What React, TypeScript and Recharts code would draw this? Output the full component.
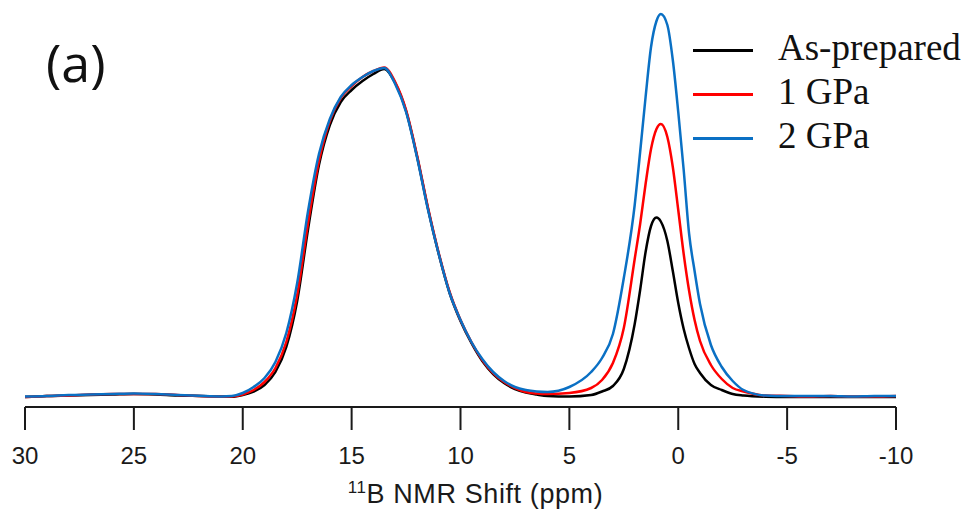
import React from "react";
import { LineChart, Line, XAxis, YAxis, Legend } from "recharts";

// chemical shift grid (ppm), denser around the sharp peak near 0.8 ppm
const shiftPpm = [
  30, 29, 28, 27, 26, 25, 24, 23, 22, 21, 20.5, 20, 19.5, 19, 18.5, 18, 17.5,
  17, 16.5, 16, 15.5, 15, 14.5, 14, 13.5, 13, 12.5, 12, 11.5, 11, 10.5, 10, 9.5,
  9, 8.5, 8, 7.5, 7, 6.5, 6, 5, 4, 3.5, 3, 2.5, 2, 1.75, 1.5, 1.25, 1, 0.8, 0.5,
  0.25, 0, -0.25, -0.5, -0.75, -1, -1.5, -2, -2.5, -3, -4, -5, -6, -7, -8, -9,
  -10,
];

const asPrepared = [
  0, 1, 1.5, 2, 2.5, 3, 2.5, 1.5, 1, 0.5, 0.3, 2, 5.5, 12, 25, 50, 96, 168, 232,
  272, 295, 307, 316, 323, 328, 314, 286, 241, 189, 143, 104, 76, 54, 36, 23,
  14, 8, 4.5, 2.5, 1, 0.5, 2, 5.5, 11, 28, 73, 107, 145, 171, 179.5, 175.5, 156,
  126, 94, 68, 48.5, 33, 24, 12, 7, 3, 1.5, 0.3, 0, 0, 0, 0, 0, 0,
];

const gpa1 = [
  0, 1, 1.5, 2.5, 3, 3, 3, 2, 1, 0.5, 0.5, 2.5, 7, 15, 29, 55, 102, 174, 236,
  276, 299, 311, 320, 326, 329.5, 315, 287, 242, 190, 144, 105, 77, 55, 37, 24,
  15, 9, 5, 3.5, 3, 4, 9, 17, 34, 69, 138, 173, 213, 248, 268, 273, 260, 230,
  187, 143, 106, 77, 56, 32, 18, 9, 5.5, 1.5, 1, 0.5, 1, 0.5, 0.5, 1,
];

const gpa2 = [
  0.5, 1, 2, 2.5, 3, 3.5, 3, 2, 1.2, 0.6, 1, 4, 10, 19, 35, 64, 114, 186, 243,
  278, 300, 312, 320, 326, 329, 313, 285, 240, 188, 143, 104, 77, 55, 38, 25,
  16, 10, 7, 5.5, 5, 10, 25, 39, 63, 119, 192, 245, 300, 350, 376, 383, 372,
  337, 285, 227, 163, 126, 93, 52, 30, 16, 7, 1.5, 1, 1, 1, 0.5, 1, 1,
];

const seriesNames = ["As-prepared", "1 GPa", "2 GPa"];
const xTicks = [30, 25, 20, 15, 10, 5, 0, -5, -10];

const data = shiftPpm.map((ppm, i) => ({
  ppm,
  asPrepared: asPrepared[i],
  gpa1: gpa1[i],
  gpa2: gpa2[i],
}));

const AxisTitle = (props: any) => {
  const vb = props.viewBox || { x: 25, y: 407, width: 871 };
  return (
    <text
      x={vb.x + vb.width / 2 + 15}
      y={vb.y + 96}
      textAnchor="middle"
      fill="#1a1a1a"
      fontFamily="'Liberation Sans', Arial, sans-serif"
      fontSize={27}
      letterSpacing={0.6}
    >
      <tspan fontSize={17} dy={-10}>11</tspan>
      <tspan dy={10}>B NMR Shift (ppm)</tspan>
    </text>
  );
};

const renderLegend = (props: any) => {
  const items = [...(props.payload || [])].sort(
    (a: any, b: any) => seriesNames.indexOf(a.value) - seriesNames.indexOf(b.value)
  );
  return (
    <div>
      {items.map((item: any) => (
        <div key={item.value} style={{ position: "relative", height: 43.7 }}>
          <div
            style={{
              position: "absolute",
              left: 0,
              top: 23,
              width: 60,
              height: 3,
              background: item.color,
            }}
          />
          <span
            style={{
              position: "absolute",
              left: 85,
              top: 0,
              fontFamily: "'Liberation Serif', 'Times New Roman', serif",
              fontSize: 37,
              lineHeight: "43.7px",
              color: "#111",
              whiteSpace: "nowrap",
            }}
          >
            {item.value}
          </span>
        </div>
      ))}
    </div>
  );
};

export default function App() {
  return (
    <div
      style={{
        position: "absolute",
        left: 0,
        top: 0,
        width: 966,
        height: 514,
        background: "#fff",
      }}
    >
      <div
        style={{
          position: "absolute",
          left: 46,
          top: 36,
          fontFamily: "'Open Sans', sans-serif",
          fontSize: 52,
          lineHeight: "52px",
          color: "#111",
        }}
      >
        (a)
      </div>
      <LineChart
        width={966}
        height={514}
        data={data}
        margin={{ top: 7, right: 70, bottom: 0, left: 25 }}
      >
        <XAxis
          dataKey="ppm"
          type="number"
          domain={[-10, 30]}
          reversed
          ticks={xTicks}
          interval={0}
          height={107}
          tickSize={23}
          tickMargin={17}
          axisLine={{ stroke: "#1a1a1a", strokeWidth: 2 }}
          tickLine={{ stroke: "#1a1a1a", strokeWidth: 2 }}
          tick={{
            fill: "#1a1a1a",
            fontSize: 24,
            fontFamily: "'Liberation Sans', Arial, sans-serif",
          }}
          label={<AxisTitle />}
        />
        <YAxis hide type="number" domain={[-10, 390]} />
        <Legend
          layout="horizontal"
          verticalAlign="middle"
          align="center"
          content={renderLegend}
          wrapperStyle={{ left: 693, top: 26.4, width: 280 }}
        />
        <Line
          type="monotone"
          dataKey="asPrepared"
          name="As-prepared"
          stroke="#000000"
          strokeWidth={2.5}
          dot={false}
          isAnimationActive={false}
        />
        <Line
          type="monotone"
          dataKey="gpa1"
          name="1 GPa"
          stroke="#ff0000"
          strokeWidth={2.5}
          dot={false}
          isAnimationActive={false}
        />
        <Line
          type="monotone"
          dataKey="gpa2"
          name="2 GPa"
          stroke="#0a70c4"
          strokeWidth={2.5}
          dot={false}
          isAnimationActive={false}
        />
      </LineChart>
    </div>
  );
}
